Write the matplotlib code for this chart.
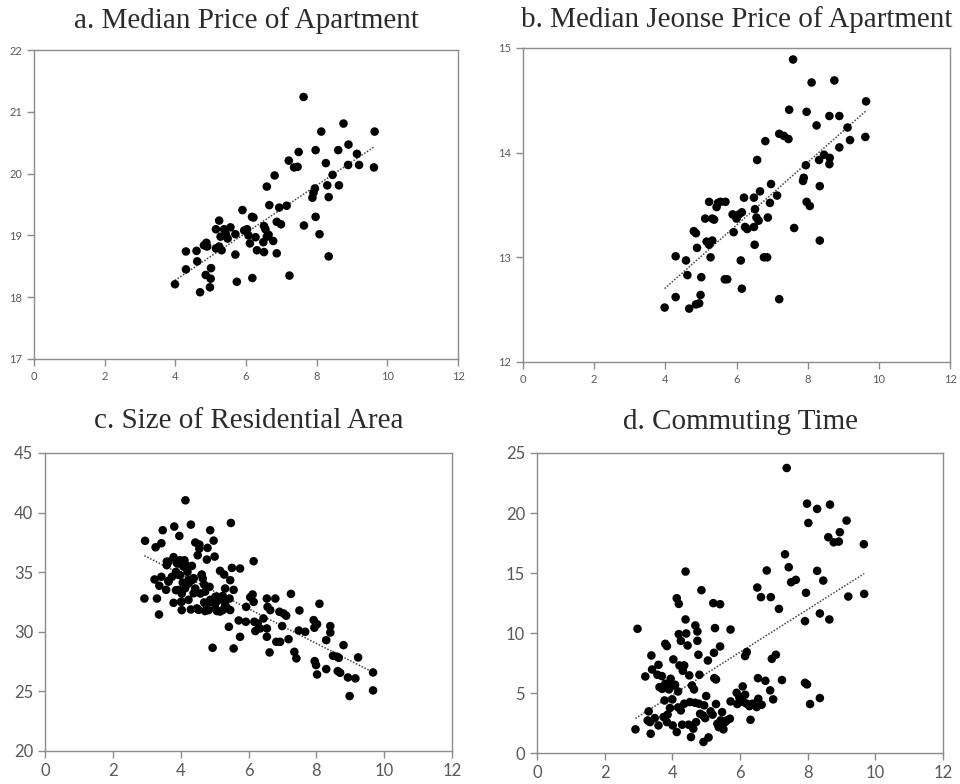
import numpy as np
import matplotlib
matplotlib.use("Agg")
import matplotlib.pyplot as plt

# a. median price of apartment
a_x = [3.99, 4.30, 4.30, 4.60, 4.62, 4.70, 4.81, 4.88, 4.90, 4.86, 5.00, 5.01, 4.98,
       5.15, 5.24, 5.15, 5.24, 5.31, 5.28, 5.38, 5.43, 5.48, 5.56, 5.70, 5.70, 5.74,
       5.90, 5.95, 6.03, 6.07, 6.11, 6.17, 6.21, 6.18, 6.27, 6.31, 6.51, 6.55, 6.49,
       6.51, 6.59, 6.66, 6.59, 6.64, 6.77, 6.81, 6.87, 6.94, 6.99, 6.87, 7.15, 7.21,
       7.23, 7.36, 7.46, 7.49, 7.63, 7.64, 7.88, 7.91, 7.95, 7.97, 7.97, 8.08, 8.13,
       8.26, 8.30, 8.34, 8.34, 8.45, 8.61, 8.63, 8.76, 8.90, 8.89, 9.14, 9.20, 9.64, 9.62]
a_y = [18.21, 18.74, 18.45, 18.75, 18.58, 18.08, 18.84, 18.88, 18.82, 18.36, 18.30, 18.47, 18.16,
       19.10, 19.24, 18.79, 18.82, 18.76, 18.98, 19.10, 19.02, 18.95, 19.13, 19.02, 18.69, 18.25,
       19.41, 19.08, 19.10, 19.00, 18.87, 19.30, 19.29, 18.31, 18.97, 18.76, 19.15, 19.10, 18.89,
       18.73, 19.79, 19.49, 18.98, 19.01, 18.91, 19.97, 19.22, 19.45, 19.18, 18.71, 19.48, 20.21,
       18.35, 20.10, 20.11, 20.35, 21.24, 19.16, 19.61, 19.69, 19.76, 20.38, 19.30, 19.02, 20.68,
       20.17, 19.81, 19.62, 18.66, 19.98, 20.38, 19.81, 20.81, 20.47, 20.14, 20.32, 20.14, 20.68, 20.10]

# b. median jeonse price of apartment
b_x = [3.98, 4.29, 4.29, 4.58, 4.62, 4.67, 4.80, 4.86, 4.89, 4.86, 4.95, 4.99, 5.01,
       5.12, 5.23, 5.16, 5.23, 5.32, 5.27, 5.32, 5.37, 5.44, 5.48, 5.55, 5.69, 5.67,
       5.74, 5.89, 5.92, 6.00, 6.07, 6.15, 6.12, 6.15, 6.21, 6.24, 6.30, 6.49, 6.49,
       6.52, 6.56, 6.62, 6.51, 6.58, 6.66, 6.77, 6.86, 6.81, 6.88, 6.94, 6.97, 7.14,
       7.20, 7.20, 7.33, 7.46, 7.48, 7.59, 7.62, 7.87, 7.89, 7.95, 7.97, 7.97, 8.06,
       8.11, 8.25, 8.32, 8.34, 8.34, 8.46, 8.61, 8.62, 8.61, 8.75, 8.89, 8.89, 9.12,
       9.19, 9.64, 9.62]
b_y = [12.52, 13.01, 12.62, 12.97, 12.83, 12.51, 13.25, 13.23, 13.09, 12.55, 12.56, 12.64, 12.81,
       13.37, 13.53, 13.15, 13.12, 13.16, 13.00, 13.37, 13.36, 13.48, 13.52, 13.53, 13.53, 12.79,
       12.79, 13.41, 13.24, 13.37, 13.41, 13.43, 12.97, 12.70, 13.57, 13.29, 13.27, 13.57, 13.29,
       13.46, 13.38, 13.35, 13.12, 13.93, 13.63, 13.00, 13.00, 14.11, 13.38, 13.52, 13.70, 13.59,
       14.18, 12.60, 14.16, 14.13, 14.41, 14.89, 13.28, 13.73, 13.76, 13.88, 14.39, 13.53, 13.49,
       14.67, 14.26, 13.93, 13.68, 13.16, 13.98, 14.35, 13.95, 13.89, 14.69, 14.35, 14.05, 14.24,
       14.12, 14.49, 14.15]

# c. size of residential area
c_x = [2.95, 2.93, 3.26, 3.43, 3.47, 3.23, 3.37, 3.43, 3.30, 3.36, 3.57, 3.59, 3.64, 3.64,
       3.74, 3.79, 3.81, 3.79, 3.86, 3.86, 3.93, 3.96, 3.98, 3.98, 4.01, 4.03, 4.03, 4.06,
       4.11, 4.14, 4.16, 4.20, 4.23, 4.30, 4.33, 4.33, 4.38, 4.43, 4.30, 4.43, 4.50, 4.55,
       4.55, 4.58, 4.48, 4.62, 4.65, 4.69, 4.69, 4.72, 4.77, 4.79, 4.82, 4.85, 4.87, 4.87,
       4.94, 4.97, 5.00, 5.02, 5.02, 5.07, 5.11, 5.16, 5.24, 5.24, 5.28, 5.31, 5.36, 5.42,
       5.44, 5.46, 5.48, 5.51, 5.56, 5.56, 5.46, 5.71, 5.75, 5.75, 5.92, 5.93, 6.05, 6.12,
       6.15, 6.15, 6.17, 6.20, 6.27, 6.34, 6.44, 6.54, 6.56, 6.54, 6.54, 6.64, 6.62, 6.79,
       6.82, 6.91, 6.93, 6.99, 7.03, 7.11, 7.18, 7.25, 7.35, 7.41, 7.48, 7.50, 7.67, 7.92,
       7.94, 8.02, 7.95, 7.99, 8.02, 8.09, 8.29, 8.29, 8.41, 8.41, 8.49, 8.61, 8.66, 8.63,
       8.70, 8.80, 8.93, 8.98, 9.15, 9.23, 9.67, 9.67,
       3.59, 3.89, 4.08, 4.23, 4.38, 4.62, 3.94, 3.64, 3.94, 4.13, 4.38, 4.72, 4.87, 5.07,
       5.26, 4.72, 5.02, 5.31, 4.23, 4.03, 4.53, 4.77, 5.16]
c_y = [37.63, 32.79, 37.09, 37.43, 38.52, 34.39, 33.86, 34.61, 32.79, 31.45, 33.52, 35.59, 35.87, 34.27,
       34.61, 36.26, 38.83, 32.43, 33.49, 35.03, 35.73, 38.04, 36.00, 34.75, 32.51, 31.82, 33.21, 34.13,
       36.00, 41.03, 35.59, 35.03, 34.05, 38.99, 35.53, 34.33, 34.47, 37.49, 31.87, 33.63, 36.42, 37.32,
       36.98, 33.21, 31.96, 34.80, 34.47, 33.97, 32.46, 31.74, 36.06, 37.04, 31.82, 33.77, 38.52, 32.51,
       28.66, 37.65, 36.31, 32.93, 32.37, 31.74, 32.65, 35.11, 33.01, 31.82, 34.80, 33.63, 32.01, 30.42,
       32.79, 34.33, 39.13, 35.36, 33.52, 28.60, 31.82, 30.95, 35.31, 29.58, 30.84, 32.09, 32.90, 33.13,
       35.92, 32.51, 30.84, 30.06, 30.70, 30.28, 31.12, 32.79, 32.09, 30.28, 29.58, 31.82, 28.27, 32.79,
       29.16, 31.68, 29.16, 30.48, 31.54, 31.35, 29.38, 33.18, 28.32, 27.77, 30.11, 31.79, 30.00, 30.98,
       30.34, 30.64, 27.54, 27.21, 26.42, 32.35, 29.30, 26.87, 30.48, 29.94, 27.99, 27.91, 27.82, 26.70,
       26.56, 28.88, 26.17, 24.61, 26.09, 27.85, 26.59, 25.08,
       35.89, 35.75, 35.47, 34.35, 34.49, 34.77, 34.77, 34.21, 33.51, 33.65, 33.23, 33.37, 32.68, 32.95,
       32.82, 32.40, 31.98, 32.26, 32.68, 32.54, 31.84, 31.89, 31.70]

# d. commuting time
d_x = [2.91, 2.97, 3.20, 3.30, 3.27, 3.34, 3.36, 3.38, 3.40, 3.48, 3.56, 3.59, 3.59, 3.62,
       3.69, 3.70, 3.74, 3.77, 3.79, 3.84, 3.79, 3.84, 3.86, 3.90, 3.93, 3.95, 3.98, 4.00,
       4.01, 4.03, 4.08, 4.13, 4.13, 4.17, 4.17, 4.19, 4.19, 4.21, 4.25, 4.25, 4.29, 4.31,
       4.35, 4.35, 4.39, 4.39, 4.41, 4.45, 4.48, 4.50, 4.52, 4.55, 4.58, 4.62, 4.64, 4.67,
       4.68, 4.70, 4.74, 4.74, 4.77, 4.78, 4.80, 4.82, 4.86, 4.90, 4.92, 4.94, 4.97, 5.00,
       5.05, 5.07, 5.13, 5.19, 5.21, 5.23, 5.24, 5.26, 5.29, 5.29, 5.33, 5.37, 5.41, 5.41,
       5.43, 5.47, 5.51, 5.56, 5.61, 5.70, 5.72, 5.72, 5.90, 5.92, 5.98, 6.08, 6.10, 6.15,
       6.15, 6.20, 6.20, 6.28, 6.31, 6.37, 6.49, 6.51, 6.53, 6.54, 6.62, 6.64, 6.75, 6.79,
       6.89, 6.91, 6.94, 6.98, 7.06, 7.15, 7.24, 7.33, 7.38, 7.44, 7.51, 7.65, 7.92, 7.95,
       7.92, 7.98, 7.98, 8.02, 8.07, 8.28, 8.28, 8.36, 8.36, 8.46, 8.61, 8.66, 8.64, 8.77,
       8.92, 8.95, 9.15, 9.20, 9.66, 9.67]
d_y = [1.97, 10.35, 6.38, 3.47, 2.72, 2.58, 1.61, 8.13, 6.96, 2.91, 6.52, 7.35, 2.30, 5.49,
       6.41, 5.35, 3.00, 4.38, 9.10, 8.91, 5.77, 2.58, 3.20, 5.30, 3.75, 6.19, 5.58, 4.47,
       2.30, 7.80, 5.69, 1.75, 12.90, 5.13, 3.80, 12.43, 9.91, 7.30, 3.55, 9.35, 2.36, 6.85,
       7.30, 4.11, 15.12, 11.13, 9.96, 8.96, 2.36, 6.47, 4.25, 1.33, 5.63, 2.03, 5.30, 4.19,
       10.63, 2.58, 10.13, 9.35, 8.19, 4.11, 6.52, 3.27, 13.57, 3.14, 0.92, 3.97, 2.91, 4.75,
       7.71, 1.30, 3.47, 3.20, 12.49, 8.35, 6.24, 10.41, 6.13, 4.08, 2.44, 2.16, 12.40, 8.88,
       2.72, 3.41, 1.97, 2.58, 2.72, 2.86, 10.29, 4.30, 5.02, 4.08, 4.63, 5.55, 4.25, 4.86,
       8.08, 8.41, 4.11, 3.91, 2.77, 4.11, 3.83, 13.79, 6.24, 4.52, 12.99, 4.02, 6.02, 15.21,
       5.22, 12.99, 7.85, 4.47, 8.19, 12.01, 6.08, 16.56, 23.75, 15.48, 14.23, 14.43, 10.99, 13.35,
       5.85, 5.72, 20.78, 19.17, 4.08, 20.34, 15.18, 11.63, 4.58, 14.37, 17.98, 20.70, 11.13, 17.56,
       17.62, 18.40, 19.37, 13.04, 17.40, 13.26]

titles = ["a. Median Price of Apartment", "b. Median Jeonse Price of Apartment",
          "c. Size of Residential Area", "d. Commuting Time"]
y_limits = [(17, 22), (12, 15), (20, 45), (0, 25)]
y_steps = [1, 1, 5, 5]
tick_sizes = [8, 8, 12, 12]
title_pads = [16, 15, 18, 17.5]

# axes rectangles in figure fractions (left, bottom, width, height)
boxes = [(0.0354, 0.5421, 0.4417, 0.3941),
         (0.5448, 0.5383, 0.4448, 0.4005),
         (0.0469, 0.0421, 0.4240, 0.3801),
         (0.5594, 0.0395, 0.4229, 0.3827)]

data = [(a_x, a_y), (b_x, b_y), (c_x, c_y), (d_x, d_y)]

fig = plt.figure(figsize=(9.6, 7.84), dpi=100)

for i in range(4):
    ax = fig.add_axes(boxes[i])
    xs = np.array(data[i][0])
    ys = np.array(data[i][1])
    ax.scatter(xs, ys, s=38, color="black", edgecolors="none", zorder=3)

    # linear trend line over the data range
    k, b = np.polyfit(xs, ys, 1)
    tx = np.array([xs.min(), xs.max()])
    ax.plot(tx, k * tx + b, linestyle=(0, (1, 1.1)), color="#444444", linewidth=1.1, zorder=2)

    ax.set_xlim(0, 12)
    ax.set_ylim(*y_limits[i])
    ax.set_xticks(range(0, 13, 2))
    ax.set_yticks(np.arange(y_limits[i][0], y_limits[i][1] + 0.1, y_steps[i]))

    for s in ax.spines.values():
        s.set_color("#8c8c8c")
        s.set_linewidth(1.0)
    ax.tick_params(direction="out", length=5, width=1.0, color="#8c8c8c",
                   labelcolor="#595959", labelsize=tick_sizes[i])
    for lab in ax.get_xticklabels() + ax.get_yticklabels():
        lab.set_fontfamily("Lato")

    ax.set_title(titles[i], fontsize=21, family="Liberation Serif", color="#2b2b2b",
                 pad=title_pads[i])

fig.savefig("out.png", dpi=100)
